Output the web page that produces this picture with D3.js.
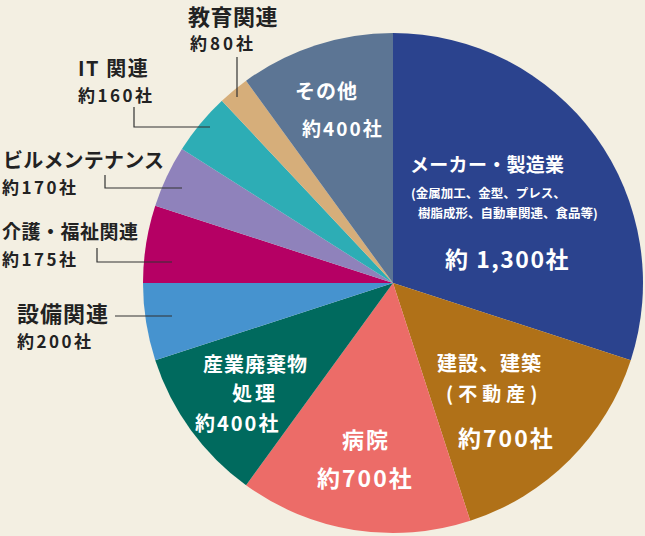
<!DOCTYPE html>
<html><head><meta charset="utf-8">
<script src="https://cdn.jsdelivr.net/npm/d3@7"></script>
<style>
html,body{margin:0;padding:0;background:#F3EFE2;}
svg{display:block;}
text{font-family:"Noto Sans CJK JP","Noto Sans",sans-serif;font-weight:700;}
</style></head>
<body>
<svg id="chart" width="645" height="536"></svg>
<script>
// Data (clockwise from 12 o'clock)
const categories = ["メーカー・製造業","建設、建築","病院","産業廃棄物処理","設備関連","介護・福祉関連","ビルメンテナンス","IT 関連","教育関連","その他"];
const shares = [30, 15, 15, 10, 5, 5, 4, 4, 2, 10];          // % share of pie
const counts = ["約 1,300社","約700社","約700社","約400社","約200社","約175社","約170社","約160社","約80社","約400社"];
const colors = ["#2B438E","#B07118","#EC6C68","#006A5E","#4693CF","#B50064","#8F82BB","#2DADB5","#D6AE7A","#5C7594"];

const svg = d3.select("#chart");
const cx = 393, cy = 283, R = 250;
const g = svg.append("g").attr("transform", `translate(${cx},${cy})`);

const pie = d3.pie().sort(null).value(d => d)(shares);
const arc = d3.arc().innerRadius(0).outerRadius(R);
g.selectAll("path").data(pie).join("path")
  .attr("d", arc).attr("fill", (d,i) => colors[i]);

// Label layout (absolute page coords, left edge x, vertical centre y)
const layout = [
  {fill:"#fff", lines:[
    {t:"メーカー・製造業", x:410, y:163, s:19, ls:0.3},
    {t:"(金属加工、金型、プレス、", x:411, y:192, s:12.5, ls:0},
    {t:"樹脂成形、自動車関連、食品等)", x:418, y:212, s:12.5, ls:0},
    {t:"約 1,300社", x:445, y:258, s:23, ls:1.5, c:true}]},
  {fill:"#fff", lines:[
    {t:"建設、建築", x:437, y:362, s:20, ls:1},
    {t:"(不動産)", x:446, y:392, s:19, ls:5},
    {t:"約700社", x:458, y:437, s:23, ls:2, c:true}]},
  {fill:"#fff", lines:[
    {t:"病院", x:342, y:438, s:22, ls:2},
    {t:"約700社", x:317, y:477, s:23, ls:2, c:true}]},
  {fill:"#fff", lines:[
    {t:"産業廃棄物", x:203, y:363, s:20, ls:1},
    {t:"処理", x:232, y:392, s:20, ls:3},
    {t:"約400社", x:195, y:422, s:20, ls:2, c:true}]},
  {fill:"#222", lines:[
    {t:"設備関連", x:17, y:312, s:22, ls:1},
    {t:"約200社", x:17, y:340, s:17, ls:2.5, c:true}],
    lead:[[115,316],[172,316]]},
  {fill:"#222", lines:[
    {t:"介護・福祉関連", x:2, y:230, s:19, ls:0.5},
    {t:"約175社", x:2, y:258, s:17, ls:2.5, c:true}],
    lead:[[97,248],[97,262],[172,262]]},
  {fill:"#222", lines:[
    {t:"ビルメンテナンス", x:3, y:159, s:20, ls:0.2},
    {t:"約170社", x:2, y:186, s:17, ls:2.5, c:true}],
    lead:[[105,175],[105,188],[182,188]]},
  {fill:"#222", lines:[
    {t:"IT 関連", x:78, y:67, s:20, ls:1.5},
    {t:"約160社", x:78, y:94, s:17, ls:2.5, c:true}],
    lead:[[134,107],[134,127],[210,127]]},
  {fill:"#222", lines:[
    {t:"教育関連", x:188, y:15, s:22, ls:0.5},
    {t:"約80社", x:190, y:42, s:17, ls:3, c:true}],
    lead:[[237,57],[237,97]]},
  {fill:"#fff", lines:[
    {t:"その他", x:295, y:90, s:20, ls:1},
    {t:"約400社", x:302, y:127, s:19, ls:2, c:true}]}
];

const lg = svg.append("g");
layout.forEach((L, i) => {
  L.lines.forEach((ln, j) => {
    const txt = (ln.c) ? counts[i] : ln.t;
    lg.append("text")
      .attr("x", ln.x).attr("y", ln.y)
      .attr("dominant-baseline", "central")
      .attr("font-size", ln.s)
      .attr("letter-spacing", ln.ls)
      .attr("fill", L.fill)
      .text(txt);
  });
  if (L.lead) {
    lg.append("path")
      .attr("d", d3.line()(L.lead))
      .attr("fill", "none").attr("stroke", "#333").attr("stroke-width", 1.2);
  }
});
</script>
</body></html>
